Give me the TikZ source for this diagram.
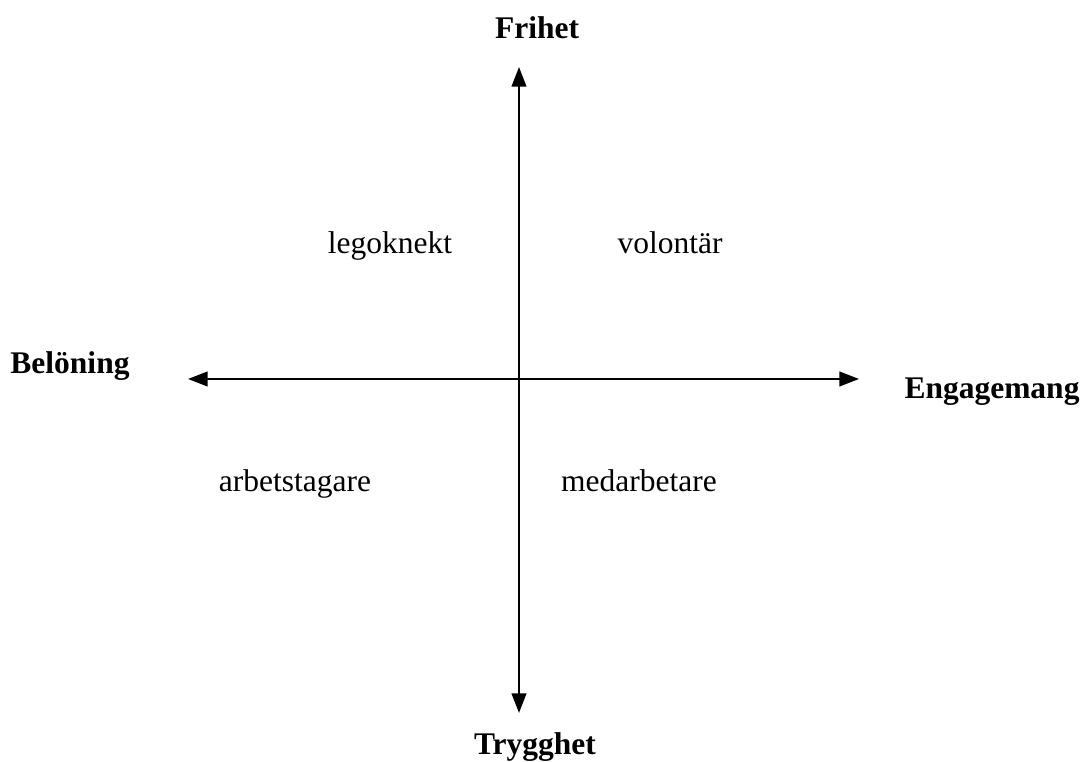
\documentclass[tikz,border=0pt]{standalone}
\usepackage{fontspec}
\setmainfont{Liberation Serif}
\usepackage{tikz}
\usetikzlibrary{arrows.meta,positioning}

\begin{document}
\begin{tikzpicture}[
  x=0.381pt, y=-0.381pt,
  axislbl/.style={inner sep=0pt, anchor=base, font=\fontsize{12}{14}\selectfont\bfseries},
  quad/.style={inner sep=0pt, anchor=base, font=\fontsize{12}{14}\selectfont},
  axis/.style={{Triangle[length=7.5pt,width=5.6pt]}-{Triangle[length=7.5pt,width=5.6pt]}, line width=0.75pt, draw=black}
]
\useasboundingbox (0,0) rectangle (1085,762);

% axis end points
\coordinate (up) at (519,67);
\coordinate (down) at (519,713);
\coordinate (left) at (188,379);
\coordinate (right) at (859,379);

% axis labels
\node[axislbl] (frihet) at (537,39) {Frihet};
\node[axislbl] (trygghet) at (535,755) {Trygghet};
\node[axislbl] (beloning) at (70,374) {Belöning};
\node[axislbl] (engagemang) at (992,399) {Engagemang};

% quadrants
\node[quad] (lego) at (390,254) {legoknekt};
\node[quad] (volontar) at (670,254) {volontär};
\node[quad] (arbets) at (295,492) {arbetstagare};
\node[quad] (medarb) at (639,492) {medarbetare};

\draw[axis] (down) -- (up);
\draw[axis] (left) -- (right);
\end{tikzpicture}
\end{document}
